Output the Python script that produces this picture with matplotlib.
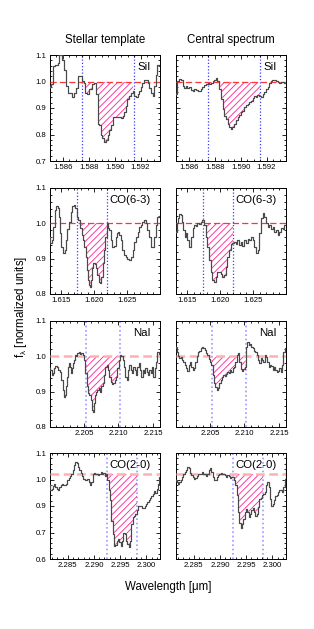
import numpy as np
import matplotlib
matplotlib.use("Agg")
import matplotlib.pyplot as plt
from matplotlib.ticker import FixedLocator, AutoMinorLocator

plt.rcParams['font.family'] = ['Liberation Sans', 'DejaVu Sans']
plt.rcParams['mathtext.fontset'] = 'custom'
plt.rcParams['mathtext.rm'] = 'Liberation Sans'
plt.rcParams['mathtext.it'] = 'Liberation Sans'
plt.rcParams['hatch.linewidth'] = 0.65

# ---------------- data ----------------
col_titles = ["Stellar template", "Central spectrum"]
line_names = ["SiI", "CO(6-3)", "NaI", "CO(2-0)"]

# SiI
sil_lam_star = [1.58500,1.58513,1.58526,1.58552,1.58564,1.58577,1.58590,1.58603,1.58616,1.58629,1.58642,1.58667,1.58680,1.58693,1.58706,1.58724,1.58745,1.58752,1.58770,1.58778,1.58796,1.58809,1.58835,1.58848,1.58861,1.58874,1.58886,1.58899,1.58912,1.58925,1.58938,1.58951,1.58964,1.58977,1.58990,1.59016,1.59041,1.59054,1.59067,1.59080,1.59092,1.59105,1.59118,1.59131,1.59144,1.59157,1.59170,1.59183,1.59196,1.59208,1.59221,1.59234,1.59247,1.59260,1.59273,1.59286,1.59299,1.59311,1.59324,1.59337,1.59350]
sil_flux_star = [0.980,0.990,1.057,1.063,1.069,1.100,1.120,1.080,1.044,0.983,0.958,0.958,0.940,0.958,0.977,1.020,1.020,1.001,0.995,0.958,0.952,0.970,0.989,0.995,0.952,0.841,0.834,0.797,0.785,0.773,0.779,0.797,0.816,0.834,0.866,0.866,0.866,0.862,0.871,0.884,0.909,0.933,0.946,0.958,0.964,0.946,0.940,0.952,0.964,0.980,0.995,1.007,1.007,0.995,0.977,0.958,0.946,0.983,1.026,1.063,1.063]
sil_lam_cen = [1.58500,1.58513,1.58531,1.58544,1.58557,1.58570,1.58582,1.58595,1.58608,1.58621,1.58634,1.58647,1.58660,1.58673,1.58685,1.58698,1.58711,1.58724,1.58737,1.58750,1.58763,1.58776,1.58789,1.58801,1.58814,1.58827,1.58840,1.58853,1.58866,1.58879,1.58892,1.58904,1.58917,1.58930,1.58943,1.58956,1.58969,1.58982,1.58995,1.59007,1.59020,1.59033,1.59046,1.59059,1.59072,1.59085,1.59098,1.59111,1.59123,1.59136,1.59149,1.59162,1.59175,1.59188,1.59201,1.59214,1.59226,1.59239,1.59252,1.59265,1.59278,1.59291,1.59304,1.59317,1.59329,1.59342,1.59350]
sil_flux_cen = [0.952,1.001,1.010,1.007,0.983,0.977,0.983,0.974,0.980,0.968,0.964,0.970,0.968,0.964,0.964,0.970,0.980,0.985,0.989,0.993,0.989,0.995,1.001,1.007,1.014,1.001,0.970,0.933,0.896,0.871,0.859,0.841,0.828,0.822,0.828,0.841,0.853,0.866,0.874,0.884,0.890,0.902,0.911,0.914,0.921,0.927,0.936,0.946,0.943,0.948,0.946,0.940,0.952,0.961,0.970,0.980,0.993,1.001,1.007,1.004,1.001,0.998,0.995,0.998,0.998,0.995,0.995]

# CO(6-3)
co63_lam_star = [1.61330,1.61340,1.61371,1.61391,1.61416,1.61441,1.61456,1.61472,1.61492,1.61517,1.61543,1.61563,1.61583,1.61608,1.61634,1.61659,1.61684,1.61699,1.61720,1.61745,1.61770,1.61796,1.61821,1.61846,1.61861,1.61877,1.61897,1.61912,1.61927,1.61942,1.61957,1.61978,1.61998,1.62018,1.62038,1.62059,1.62079,1.62099,1.62119,1.62140,1.62160,1.62180,1.62200,1.62221,1.62241,1.62266,1.62291,1.62317,1.62332,1.62352,1.62372,1.62393,1.62418,1.62443,1.62469,1.62494,1.62519,1.62544,1.62570,1.62595,1.62620,1.62646,1.62671,1.62696,1.62721,1.62747,1.62772,1.62797,1.62823,1.62848,1.62873,1.62898,1.62924,1.62949,1.62975,1.63000]
co63_flux_star = [0.962,0.943,0.953,0.991,1.038,1.049,1.042,1.019,0.972,0.934,0.915,0.925,0.953,0.983,1.005,1.033,1.049,1.052,1.042,1.019,1.009,0.986,0.967,0.953,0.934,0.906,0.868,0.840,0.825,0.821,0.840,0.873,0.887,0.885,0.873,0.854,0.835,0.830,0.849,0.887,0.925,0.962,1.000,0.986,0.981,0.953,0.934,0.936,0.962,0.972,0.976,0.967,0.953,0.925,0.910,0.904,0.898,0.896,0.906,0.925,0.948,0.962,0.976,0.989,0.995,1.005,1.009,1.000,0.981,0.962,0.934,0.934,0.962,0.995,1.019,1.021]
co63_lam_cen = [1.61330,1.61350,1.61371,1.61391,1.61411,1.61431,1.61451,1.61472,1.61492,1.61517,1.61543,1.61568,1.61593,1.61618,1.61643,1.61669,1.61694,1.61719,1.61745,1.61770,1.61795,1.61820,1.61846,1.61871,1.61897,1.61922,1.61947,1.61972,1.61997,1.62023,1.62048,1.62074,1.62099,1.62124,1.62149,1.62174,1.62200,1.62226,1.62251,1.62276,1.62302,1.62327,1.62352,1.62378,1.62403,1.62428,1.62454,1.62479,1.62504,1.62530,1.62555,1.62580,1.62606,1.62631,1.62656,1.62682,1.62707,1.62732,1.62757,1.62783,1.62808,1.62833,1.62859,1.62884,1.62909,1.62935,1.62960,1.62985,1.63000]
co63_flux_cen = [0.976,1.000,1.014,1.026,1.024,1.005,0.981,0.962,0.974,0.953,0.934,0.962,0.986,0.995,0.992,1.000,0.998,1.005,1.009,0.995,0.962,0.934,0.896,0.863,0.840,0.835,0.849,0.863,0.863,0.858,0.849,0.854,0.877,0.906,0.925,0.941,0.943,0.948,0.941,0.953,0.939,0.948,0.936,0.953,0.943,0.957,0.953,0.962,0.953,0.934,0.915,0.925,0.972,1.014,1.030,1.019,1.000,0.991,0.995,0.983,0.989,0.976,0.981,0.967,0.976,0.986,0.983,0.995,1.005]

# NaI
nai_lam_star = [2.20010,2.20024,2.20044,2.20058,2.20073,2.20092,2.20116,2.20140,2.20155,2.20169,2.20183,2.20203,2.20217,2.20232,2.20246,2.20261,2.20275,2.20289,2.20304,2.20318,2.20333,2.20347,2.20362,2.20381,2.20395,2.20415,2.20434,2.20453,2.20473,2.20492,2.20511,2.20530,2.20550,2.20569,2.20588,2.20607,2.20627,2.20641,2.20656,2.20670,2.20685,2.20704,2.20723,2.20742,2.20762,2.20781,2.20800,2.20819,2.20839,2.20858,2.20877,2.20897,2.20916,2.20935,2.20954,2.20974,2.20993,2.21012,2.21031,2.21051,2.21070,2.21089,2.21109,2.21128,2.21147,2.21166,2.21186,2.21205,2.21224,2.21243,2.21263,2.21282,2.21301,2.21321,2.21340,2.21359,2.21378,2.21398,2.21417,2.21436,2.21455,2.21475,2.21494,2.21513,2.21533,2.21552,2.21571,2.21590,2.21600]
nai_flux_star = [0.966,0.961,0.947,0.952,0.966,0.973,0.971,0.961,0.957,0.952,0.933,0.905,0.886,0.891,0.915,0.942,0.969,0.982,0.971,0.952,0.966,0.980,0.990,1.004,1.000,1.010,1.013,1.007,1.010,1.004,0.990,0.952,0.915,0.895,0.891,0.876,0.848,0.843,0.867,0.891,0.900,0.905,0.909,0.900,0.915,0.924,0.947,0.969,0.975,0.961,0.942,0.928,0.922,0.924,0.933,0.942,0.966,0.990,1.004,1.000,0.990,0.971,0.942,0.933,0.961,0.975,0.961,0.952,0.971,0.961,0.947,0.971,0.980,0.961,0.942,0.961,0.952,0.966,0.957,0.947,0.961,0.952,0.971,0.942,0.966,0.985,1.013,1.008,0.990]
nai_lam_cen = [2.20010,2.20029,2.20049,2.20068,2.20087,2.20106,2.20126,2.20145,2.20164,2.20183,2.20203,2.20222,2.20241,2.20261,2.20280,2.20299,2.20318,2.20338,2.20357,2.20376,2.20395,2.20415,2.20434,2.20453,2.20473,2.20492,2.20511,2.20530,2.20550,2.20569,2.20588,2.20607,2.20627,2.20646,2.20665,2.20685,2.20704,2.20723,2.20742,2.20762,2.20781,2.20800,2.20819,2.20839,2.20858,2.20877,2.20897,2.20916,2.20935,2.20954,2.20974,2.20993,2.21012,2.21031,2.21051,2.21070,2.21089,2.21109,2.21128,2.21147,2.21166,2.21186,2.21205,2.21224,2.21243,2.21263,2.21282,2.21301,2.21321,2.21340,2.21359,2.21378,2.21398,2.21417,2.21436,2.21455,2.21475,2.21494,2.21513,2.21533,2.21552,2.21571,2.21590,2.21600]
nai_flux_cen = [1.027,1.013,1.000,0.995,0.998,0.990,0.985,0.975,0.966,0.959,0.975,0.985,0.969,0.961,0.966,0.985,1.002,1.013,1.016,1.023,1.027,1.023,1.018,1.009,1.004,0.993,0.985,0.975,0.947,0.924,0.913,0.905,0.909,0.924,0.933,0.942,0.947,0.945,0.950,0.957,0.952,0.961,0.957,0.966,0.971,0.985,1.004,1.009,0.985,0.964,0.959,0.964,0.971,1.027,1.041,1.032,1.036,1.027,1.023,1.016,1.013,1.004,0.990,0.982,0.995,0.990,0.985,1.004,0.998,0.985,0.969,0.975,0.973,0.961,0.969,0.961,0.957,0.959,0.966,0.957,0.975,1.013,1.023,1.018]

# CO(2-0)
co20_lam_star = [2.28160,2.28179,2.28205,2.28224,2.28249,2.28275,2.28300,2.28325,2.28351,2.28376,2.28402,2.28427,2.28453,2.28478,2.28504,2.28529,2.28555,2.28580,2.28605,2.28631,2.28656,2.28682,2.28707,2.28733,2.28758,2.28784,2.28809,2.28835,2.28860,2.28885,2.28911,2.28936,2.28962,2.28987,2.29013,2.29038,2.29064,2.29089,2.29115,2.29140,2.29165,2.29191,2.29216,2.29242,2.29267,2.29293,2.29318,2.29344,2.29369,2.29395,2.29420,2.29445,2.29471,2.29496,2.29522,2.29547,2.29573,2.29598,2.29624,2.29649,2.29675,2.29700,2.29725,2.29751,2.29776,2.29802,2.29827,2.29853,2.29878,2.29904,2.29929,2.29955,2.29980,2.30005,2.30031,2.30056,2.30082,2.30107,2.30133,2.30158,2.30184,2.30209,2.30235,2.30260]
co20_flux_star = [0.948,0.924,0.932,0.943,0.952,0.940,0.932,0.927,0.940,0.948,0.956,0.948,0.948,0.956,0.971,0.984,0.990,1.003,1.019,1.043,1.059,1.054,1.035,1.019,1.006,0.990,0.979,0.971,0.975,0.979,0.963,0.948,0.963,1.000,1.006,1.000,1.003,0.995,1.003,1.011,1.000,1.006,0.990,1.000,0.971,0.924,0.876,0.781,0.717,0.662,0.667,0.686,0.694,0.678,0.662,0.686,0.725,0.717,0.686,0.670,0.657,0.686,0.765,0.797,0.805,0.813,0.829,0.848,0.852,0.848,0.841,0.841,0.852,0.860,0.868,0.876,0.889,0.895,0.908,0.921,0.911,0.932,0.956,0.987]
co20_lam_cen = [2.28160,2.28185,2.28211,2.28236,2.28262,2.28287,2.28313,2.28338,2.28364,2.28389,2.28415,2.28440,2.28465,2.28491,2.28516,2.28542,2.28567,2.28593,2.28618,2.28644,2.28669,2.28695,2.28720,2.28745,2.28771,2.28796,2.28822,2.28847,2.28873,2.28898,2.28924,2.28949,2.28975,2.29000,2.29025,2.29051,2.29076,2.29102,2.29127,2.29153,2.29178,2.29204,2.29229,2.29255,2.29280,2.29305,2.29331,2.29356,2.29382,2.29407,2.29433,2.29458,2.29484,2.29509,2.29535,2.29560,2.29585,2.29611,2.29636,2.29662,2.29687,2.29713,2.29738,2.29764,2.29789,2.29815,2.29840,2.29865,2.29891,2.29916,2.29942,2.29967,2.29993,2.30018,2.30044,2.30069,2.30095,2.30120,2.30145,2.30171,2.30196,2.30222,2.30247,2.30260]
co20_flux_cen = [0.975,0.963,0.956,0.963,0.975,0.987,1.000,1.011,1.019,1.032,1.027,1.006,0.995,0.987,0.979,0.984,0.990,1.000,1.003,1.000,1.011,1.000,1.003,0.990,1.003,1.019,1.027,1.011,0.987,0.971,0.975,0.987,0.995,1.003,1.006,1.000,1.003,0.995,0.987,0.995,0.990,0.984,0.987,0.987,0.975,0.948,0.900,0.821,0.770,0.746,0.765,0.789,0.821,0.837,0.821,0.797,0.813,0.832,0.841,0.821,0.805,0.813,0.844,0.884,0.889,0.900,0.908,0.916,0.948,0.963,0.940,0.884,0.852,0.860,0.879,0.895,0.900,0.916,0.927,0.924,0.916,0.940,0.979,1.051]

# index windows and continuum levels
windows = [(1.5875, 1.5915), (1.6174, 1.6220), (2.2053, 2.2102), (2.2925, 2.2983)]
cont_levels = [1.0, 1.0, 1.0, 1.0]

xlims = [(1.5850, 1.5935), (1.6133, 1.6300), (2.2001, 2.2160), (2.2816, 2.3026)]
ylims = [(0.7, 1.1), (0.8, 1.1), (0.8, 1.1), (0.6, 1.1)]
xticks = [[1.586, 1.588, 1.590, 1.592], [1.615, 1.620, 1.625],
          [2.205, 2.210, 2.215], [2.285, 2.290, 2.295, 2.300]]
xminor = [4, 5, 5, 5]
yticks = [[0.7, 0.8, 0.9, 1.0, 1.1], [0.8, 0.9, 1.0, 1.1],
          [0.8, 0.9, 1.0, 1.1], [0.6, 0.725, 0.85, 0.975, 1.1]]
yticklabels = [["0.7", "0.8", "0.9", "1.0", "1.1"], ["0.8", "0.9", "1.0", "1.1"],
               ["0.8", "0.9", "1.0", "1.1"], ["0.6", "0.7", "0.9", "1.0", "1.1"]]

spectra = [
    [(sil_lam_star, sil_flux_star), (sil_lam_cen, sil_flux_cen)],
    [(co63_lam_star, co63_flux_star), (co63_lam_cen, co63_flux_cen)],
    [(nai_lam_star, nai_flux_star), (nai_lam_cen, nai_flux_cen)],
    [(co20_lam_star, co20_flux_star), (co20_lam_cen, co20_flux_cen)],
]

# ---------------- figure ----------------
W, H = 314, 629
fig = plt.figure(figsize=(W / 100, H / 100), dpi=100)

col_left = [50, 176]
col_w = 110
row_top = [55, 188, 321, 453]
row_h = 106

strong = dict(cont='#ff3535', cont_lw=0.9, cont_dash=(5, 2.5),
              vcol='#3a3aff', v_lw=0.9)
light = dict(cont='#ffb0b0', cont_lw=1.8, cont_dash=(3.5, 1.8),
             vcol='#9a9aff', v_lw=1.2)

for r in range(4):
    st = strong if r < 2 else light
    for c in range(2):
        ax = fig.add_axes([col_left[c] / W, 1 - (row_top[r] + row_h) / H,
                           col_w / W, row_h / H])
        lam = np.array(spectra[r][c][0])
        flux = np.array(spectra[r][c][1])
        w0, w1 = windows[r]
        lev = cont_levels[r]

        for wv in (w0, w1):
            ax.axvline(wv, color=st['vcol'], lw=st['v_lw'],
                       linestyle=(0, (1, 1.6)), zorder=1)

        m = (lam >= w0) & (lam <= w1)
        ax.fill_between(lam[m], np.minimum(flux[m], lev), lev, step='mid',
                        facecolor='none', edgecolor='#ff2d9b', hatch='/////',
                        linewidth=0, zorder=2)
        ax.axhline(lev, color=st['cont'], lw=st['cont_lw'],
                   linestyle=(0, st['cont_dash']), zorder=3)
        ax.plot(lam, flux, drawstyle='steps-mid', color='#9a9a9a', lw=1.0,
                zorder=4)
        ax.plot(lam, flux, drawstyle='steps-mid', color='#1a1a1a', lw=0.45,
                zorder=5)

        ax.set_xlim(*xlims[r])
        ax.set_ylim(*ylims[r])
        ax.xaxis.set_major_locator(FixedLocator(xticks[r]))
        ax.set_xticklabels(["%.3f" % v for v in xticks[r]])
        ax.xaxis.set_minor_locator(AutoMinorLocator(xminor[r]))
        ax.yaxis.set_major_locator(FixedLocator(yticks[r]))
        ax.yaxis.set_minor_locator(AutoMinorLocator(5))
        if c == 0:
            ax.set_yticklabels(yticklabels[r])
        else:
            ax.set_yticklabels([])
        ax.tick_params(which='both', direction='in', top=True, right=True,
                       labelsize=5.6, width=0.6, pad=2.5)
        ax.tick_params(which='major', length=3.0)
        ax.tick_params(which='minor', length=1.5)
        for s in ax.spines.values():
            s.set_linewidth(0.7)

        ax.text(0.918, 0.885, line_names[r], transform=ax.transAxes,
                ha='right', va='center', fontsize=8.2, zorder=6)

        if r == 0:
            fig.text((col_left[c] + col_w / 2) / W, 1 - 39.5 / H,
                     col_titles[c], ha='center', va='center', fontsize=8.3)

fig.text(168 / W, 1 - 587 / H, "Wavelength [\u03bcm]", ha='center',
         va='center', fontsize=8.3)
fig.text(21 / W, 1 - 307 / H, r"$\mathregular{f_{\lambda}}$ [normalized units]",
         ha='center', va='center', rotation=90, fontsize=8.3)

fig.savefig("out.png", dpi=100)
